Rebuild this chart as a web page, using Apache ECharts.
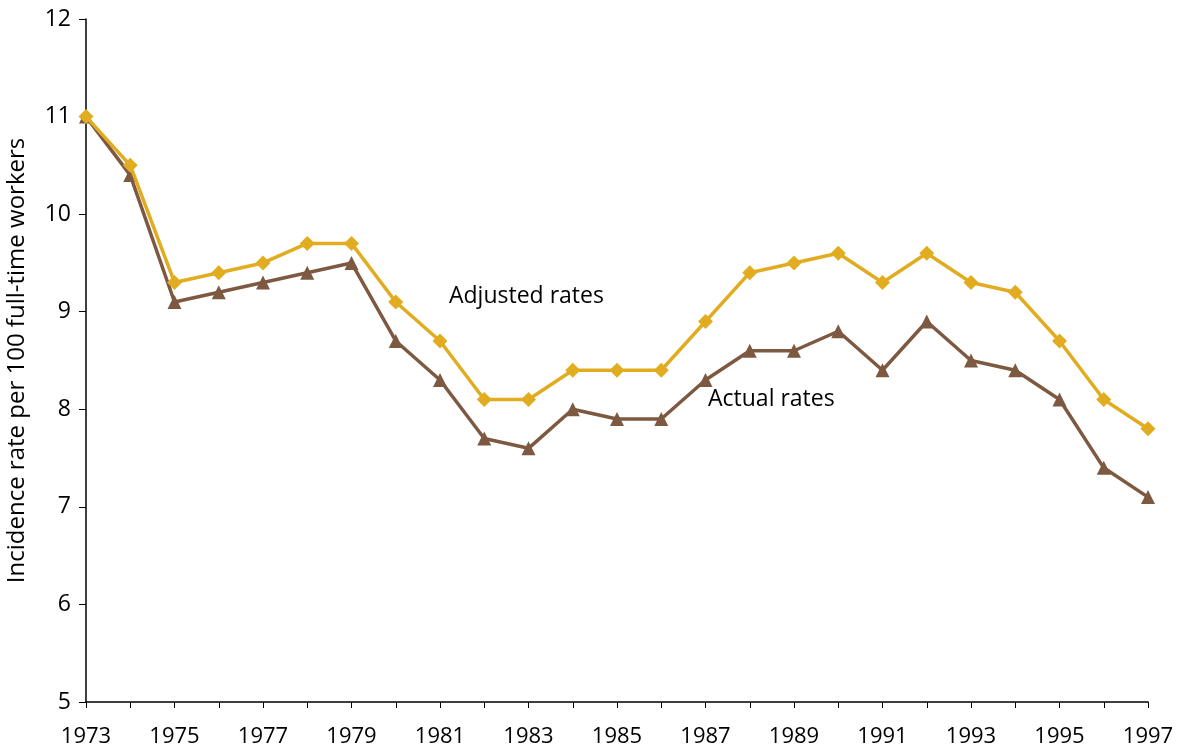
<!DOCTYPE html>
<html>
<head>
<meta charset="utf-8">
<script src="https://cdn.jsdelivr.net/npm/echarts@6/dist/echarts.min.js"></script>
<style>
  html, body { margin: 0; padding: 0; background: #fff }
  #chart { width: 1177px; height: 750px }
</style>
</head>
<body>
<div id="chart"></div>
<script>
const years = ['1973', '1974', '1975', '1976', '1977', '1978', '1979', '1980', '1981', '1982', '1983', '1984',
  '1985', '1986', '1987', '1988', '1989', '1990', '1991', '1992', '1993', '1994', '1995', '1996', '1997']
const adjustedRates = [11.0, 10.5, 9.3, 9.4, 9.5, 9.7, 9.7, 9.1, 8.7, 8.1, 8.1, 8.4,
  8.4, 8.4, 8.9, 9.4, 9.5, 9.6, 9.3, 9.6, 9.3, 9.2, 8.7, 8.1, 7.8]
const actualRates = [11.0, 10.4, 9.1, 9.2, 9.3, 9.4, 9.5, 8.7, 8.3, 7.7, 7.6, 8.0,
  7.9, 7.9, 8.3, 8.6, 8.6, 8.8, 8.4, 8.9, 8.5, 8.4, 8.1, 7.4, 7.1]

const gold = '#E1AC1F'
const brown = '#7E5942'
const font = 'Open Sans'

const chart = echarts.init(document.getElementById('chart'))
chart.setOption({
  animation: false,
  grid: { left: 86, right: 29, top: 19, bottom: 48, outerBoundsMode: 'none' },
  xAxis: {
    type: 'category',
    data: years,
    boundaryGap: false,
    axisLine: { lineStyle: { color: '#000', width: 1.5 } },
    axisTick: { show: true, interval: 0, length: 6, lineStyle: { color: '#000' } },
    axisLabel: { interval: 1, color: '#000', fontSize: 22, fontFamily: font, margin: 24 }
  },
  yAxis: {
    type: 'value',
    min: 5, max: 12, interval: 1,
    name: 'Incidence rate per 100 full-time workers',
    nameLocation: 'middle',
    nameGap: 57,
    nameTextStyle: { color: '#000', fontSize: 24, fontFamily: font },
    axisLine: { show: true, lineStyle: { color: '#000', width: 1.5 } },
    axisTick: { show: true, length: 7, lineStyle: { color: '#000' } },
    axisLabel: { color: '#000', fontSize: 23, fontFamily: font, margin: 15 },
    splitLine: { show: false }
  },
  series: [
    {
      name: 'Adjusted rates',
      type: 'line',
      data: adjustedRates,
      symbol: 'diamond',
      symbolSize: 15,
      lineStyle: { color: gold, width: 3.5 },
      itemStyle: { color: gold },
      z: 3
    },
    {
      name: 'Actual rates',
      type: 'line',
      data: actualRates,
      symbol: 'triangle',
      symbolSize: 14,
      lineStyle: { color: brown, width: 3.5 },
      itemStyle: { color: brown },
      z: 2
    }
  ],
  graphic: [
    { type: 'text', left: 449, top: 285, style: { text: 'Adjusted rates', fill: '#000', font: '23px "Open Sans"' } },
    { type: 'text', left: 708, top: 388, style: { text: 'Actual rates', fill: '#000', font: '23px "Open Sans"' } }
  ]
})
</script>
</body>
</html>
